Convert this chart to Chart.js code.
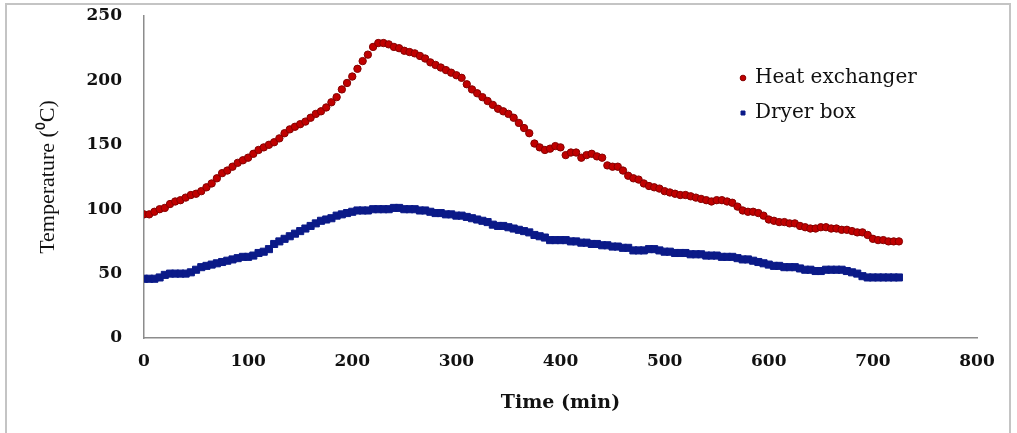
<!DOCTYPE html>
<html>
<head>
<meta charset="utf-8">
<title>Temperature vs time</title>
<script src="https://cdn.jsdelivr.net/npm/chart.js@4.4.1/dist/chart.umd.min.js"></script>
<style>
    body { margin: 0; background: #fff; }
    #wrap { position: relative; width: 1017px; height: 433px; overflow: hidden; }
    #frame {
        position: absolute; left: 5px; top: 3px; width: 1006px; height: 460px;
        border: 2px solid #c4c4c4; box-sizing: border-box;
    }
    #grafico { position: absolute; left: 0; top: 0; }
</style>
</head>
<body>
<div id="wrap">
    <div id="frame"></div>
    <canvas id="grafico" width="1017" height="433"></canvas>
</div>
<script>
// ====================================
// DATOS
// ====================================

const tiempos = [
    0, 5, 10, 15, 20, 25, 30, 35, 40, 45, 50, 55, 60, 65, 70, 75, 80, 85, 90, 95,
    100, 105, 110, 115, 120, 125, 130, 135, 140, 145, 150, 155, 160, 165, 170, 175, 180, 185, 190, 195,
    200, 205, 210, 215, 220, 225, 230, 235, 240, 245, 250, 255, 260, 265, 270, 275, 280, 285, 290, 295,
    300, 305, 310, 315, 320, 325, 330, 335, 340, 345, 350, 355, 360, 365, 370, 375, 380, 385, 390, 395,
    400, 405, 410, 415, 420, 425, 430, 435, 440, 445, 450, 455, 460, 465, 470, 475, 480, 485, 490, 495,
    500, 505, 510, 515, 520, 525, 530, 535, 540, 545, 550, 555, 560, 565, 570, 575, 580, 585, 590, 595,
    600, 605, 610, 615, 620, 625, 630, 635, 640, 645, 650, 655, 660, 665, 670, 675, 680, 685, 690, 695,
    700, 705, 710, 715, 720, 725
];

const heatExchanger = [
    96, 96, 98, 100, 101, 104, 106, 107, 109, 111, 112, 114, 117, 120, 124, 128, 130, 133, 136, 138,
    140, 143, 146, 148, 150, 152, 155, 159, 162, 164, 166, 168, 171, 174, 176, 179, 183, 187, 193, 198,
    203, 209, 215, 220, 226, 229, 229, 228, 226, 225, 223, 222, 221, 219, 217, 214, 212, 210, 208, 206,
    204, 202, 197, 193, 190, 187, 184, 181, 178, 176, 174, 171, 167, 163, 159, 151, 148, 146, 147, 149,
    148, 142, 144, 144, 140, 142, 143, 141, 140, 134, 133, 133, 130, 126, 124, 123, 120, 118, 117, 116,
    114, 113, 112, 111, 111, 110, 109, 108, 107, 106, 107, 107, 106, 105, 102, 99, 98, 98, 97, 95,
    92, 91, 90, 90, 89, 89, 87, 86, 85, 85, 86, 86, 85, 85, 84, 84, 83, 82, 82, 80,
    77, 76, 76, 75, 75, 75
];

const dryerBox = [
    46, 46, 46, 47, 49, 50, 50, 50, 50, 51, 53, 55, 56, 57, 58, 59, 60, 61, 62, 63,
    63, 64, 66, 67, 69, 73, 75, 77, 79, 81, 83, 85, 87, 89, 91, 92, 93, 95, 96, 97,
    98, 99, 99, 99, 100, 100, 100, 100, 101, 101, 100, 100, 100, 99, 99, 98, 97, 97, 96, 96,
    95, 95, 94, 93, 92, 91, 90, 88, 87, 87, 86, 85, 84, 83, 82, 80, 79, 78, 76, 76,
    76, 76, 75, 75, 74, 74, 73, 73, 72, 72, 71, 71, 70, 70, 68, 68, 68, 69, 69, 68,
    67, 67, 66, 66, 66, 65, 65, 65, 64, 64, 64, 63, 63, 63, 62, 61, 61, 60, 59, 58,
    57, 56, 56, 55, 55, 55, 54, 53, 53, 52, 52, 53, 53, 53, 53, 52, 51, 50, 48, 47,
    47, 47, 47, 47, 47, 47
];

const ticksX = [0, 100, 200, 300, 400, 500, 600, 700, 800];
const ticksY = [0, 50, 100, 150, 200, 250];

// Convertir a pares {x, y}
function aPuntos(xs, ys) {
    return xs.map((x, i) => ({ x: x, y: ys[i] }));
}

// Mover la leyenda dentro del area del grafico
const leyendaDentro = {
    id: 'leyendaDentro',
    afterLayout(chart) {
        const lg = chart.legend;
        if (!lg) return;
        const w = lg.width, h = lg.height;
        lg.left = 726;
        lg.top = 53;
        lg.right = lg.left + w;
        lg.bottom = lg.top + h;
    }
};

const fuenteTicks = { family: 'DejaVu Serif', weight: 'bold', size: 17 };

new Chart(document.getElementById('grafico'), {
    type: 'scatter',
    data: {
        datasets: [
            {
                label: 'Heat exchanger',
                data: aPuntos(tiempos, heatExchanger),
                pointStyle: 'circle',
                pointRadius: 3.7,
                backgroundColor: '#c00000',
                borderColor: '#850000',
                borderWidth: 1
            },
            {
                label: 'Dryer box',
                data: aPuntos(tiempos, dryerBox),
                pointStyle: 'rect',
                pointRadius: 5,
                backgroundColor: '#0b1a88',
                borderColor: '#0b1a88',
                borderWidth: 1
            }
        ]
    },
    options: {
        responsive: false,
        animation: false,
        devicePixelRatio: 1,
        layout: { padding: { top: 16, right: 40, bottom: 0, left: 0 } },
        plugins: {
            tooltip: { enabled: false },
            legend: {
                position: 'chartArea',
                fullSize: false,
                align: 'start',
                labels: {
                    usePointStyle: true,
                    boxWidth: 4,
                    boxHeight: 4,
                    padding: 15,
                    color: '#111',
                    font: { family: 'DejaVu Serif', size: 20 }
                }
            }
        },
        scales: {
            x: {
                type: 'linear',
                min: 0,
                max: 800,
                afterBuildTicks: (s) => { s.ticks = ticksX.map(v => ({ value: v })); },
                afterFit: (s) => { s.height = 95; },
                grid: { display: false, drawTicks: false },
                border: { display: true, color: '#8c8c8c', width: 1.5 },
                ticks: { padding: 13, color: '#111', font: fuenteTicks, maxRotation: 0 },
                title: {
                    display: true,
                    text: 'Time (min)',
                    color: '#111',
                    font: { family: 'DejaVu Serif', weight: 'bold', size: 19 },
                    padding: { top: 0, bottom: 19 }
                }
            },
            y: {
                min: 0,
                max: 250,
                afterBuildTicks: (s) => { s.ticks = ticksY.map(v => ({ value: v })); },
                afterFit: (s) => { s.width = 144; },
                // marcas invisibles: solo separan las etiquetas del eje
                grid: { display: false, drawTicks: true, tickLength: 20 },
                border: { display: true, color: '#8c8c8c', width: 1.5 },
                ticks: { padding: 2, color: '#111', font: fuenteTicks },
                title: {
                    display: true,
                    text: 'Temperature (\u2070C)',
                    color: '#111',
                    font: { family: 'Liberation Serif', size: 22 },
                    padding: { top: 35, bottom: 0 }
                }
            }
        }
    },
    plugins: [leyendaDentro]
});
</script>
</body>
</html>
